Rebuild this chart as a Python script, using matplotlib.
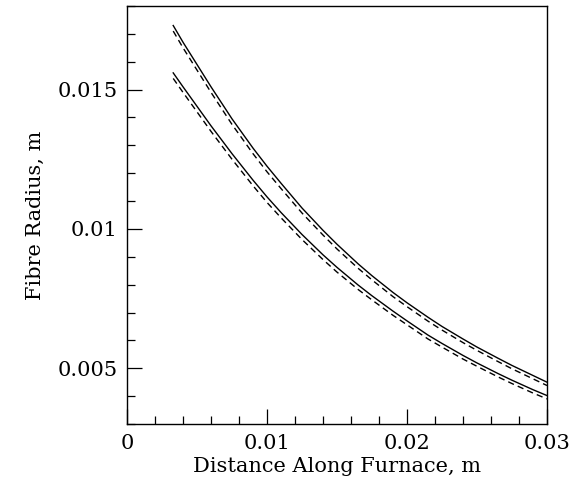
import matplotlib
matplotlib.use("Agg")
import matplotlib.pyplot as plt
from matplotlib.ticker import MultipleLocator, FuncFormatter

# Distance along the furnace (m)
distance = [0.0033, 0.004, 0.005, 0.006, 0.0075, 0.009, 0.01, 0.011,
            0.0125, 0.014, 0.015, 0.0165, 0.0175, 0.019, 0.02, 0.0215,
            0.0225, 0.024, 0.025, 0.0265, 0.0275, 0.029, 0.03]

# Fibre radius (m): upper pair of curves
upper_solid = [0.0173, 0.0167, 0.0159, 0.0151, 0.01395, 0.0129, 0.01225, 0.01164,
               0.01075, 0.00995, 0.00945, 0.00875, 0.00832, 0.00772, 0.00735,
               0.00683, 0.00650, 0.00605, 0.00576, 0.00536, 0.00510, 0.00474,
               0.0045]
upper_dashed = [0.0171, 0.0165, 0.0157, 0.0149, 0.01375, 0.0127, 0.01205, 0.01145,
                0.01057, 0.00978, 0.00928, 0.00859, 0.00817, 0.00757, 0.00721,
                0.00669, 0.00637, 0.00592, 0.00564, 0.00524, 0.00498, 0.00462,
                0.00438]

# Fibre radius (m): lower pair of curves
lower_solid = [0.0156, 0.0151, 0.0144, 0.0137, 0.0127, 0.01175, 0.01115, 0.01059,
               0.0098, 0.00907, 0.00862, 0.00799, 0.0076, 0.00705, 0.0067,
               0.00619, 0.00589, 0.00546, 0.00519, 0.00481, 0.00457, 0.00423,
               0.00402]
lower_dashed = [0.0154, 0.0149, 0.0142, 0.0135, 0.0125, 0.01155, 0.01095, 0.0104,
                0.00962, 0.0089, 0.00845, 0.00783, 0.00745, 0.0069, 0.00656,
                0.00605, 0.00576, 0.00533, 0.00507, 0.00469, 0.00445, 0.00411,
                0.0039]

x_ticks = [0, 0.01, 0.02, 0.03]
y_ticks = [0.005, 0.01, 0.015]

plt.rcParams["font.family"] = ["DejaVu Serif"]

fig = plt.figure(figsize=(5.75, 4.93), dpi=100)
ax = fig.add_axes([0.2209, 0.1400, 0.7304, 0.8478])

lw = 1.0
ax.plot(distance, upper_solid, color="black", lw=lw)
ax.plot(distance, upper_dashed, color="black", lw=lw, dashes=(4.5, 3))
ax.plot(distance, lower_solid, color="black", lw=lw)
ax.plot(distance, lower_dashed, color="black", lw=lw, dashes=(4.5, 3))

ax.set_xlim(0, 0.03)
ax.set_ylim(0.003, 0.018)

ax.xaxis.set_minor_locator(MultipleLocator(0.002))
ax.yaxis.set_minor_locator(MultipleLocator(0.001))
ax.set_xticks(x_ticks)
ax.set_yticks(y_ticks)

fmt = FuncFormatter(lambda v, pos: "0" if abs(v) < 1e-12 else ("%g" % v))
ax.xaxis.set_major_formatter(fmt)
ax.yaxis.set_major_formatter(fmt)

ax.tick_params(which="major", direction="in", length=11, width=0.9,
               labelsize=15, top=False, right=False, pad=7)
ax.tick_params(which="minor", direction="in", length=6, width=0.9,
               top=False, right=False)

for s in ax.spines.values():
    s.set_linewidth(1.0)

ax.set_xlabel("Distance Along Furnace, m", fontsize=15, labelpad=3)
ax.set_ylabel("Fibre Radius, m", fontsize=15, labelpad=9)

fig.savefig("out.png", dpi=100)
